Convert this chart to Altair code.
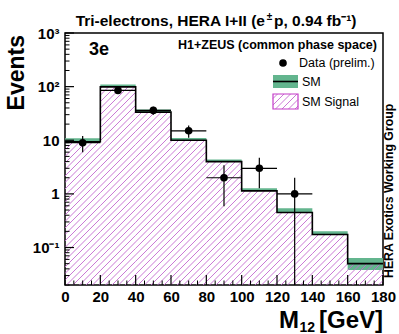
import math
import altair as alt
import pandas as pd

# ---- histogram content: tri-electron events vs. M12 ----
bin_lo = [0, 20, 40, 60, 80, 100, 120, 140, 160]
bin_hi = [20, 40, 60, 80, 100, 120, 140, 160, 180]
sm_total = [9.4, 99.0, 33.5, 10.0, 4.0, 1.14, 0.45, 0.175, 0.050]
sm_band_lo = [9.4, 99.0, 33.5, 10.0, 4.0, 1.14, 0.45, 0.172, 0.038]
sm_band_hi = [10.9, 110.0, 37.6, 11.0, 4.4, 1.28, 0.54, 0.20, 0.064]
sm_signal = [9.4, 99.0, 33.5, 10.0, 4.0, 1.14, 0.45, 0.175, 0.050]

data_x = [10, 30, 50, 70, 90, 110, 130]
data_n = [9, 85, 36, 15, 2, 3, 1]

x_major = [0, 20, 40, 60, 80, 100, 120, 140, 160, 180]
x_minor = [v for v in range(5, 180, 5) if v % 20 != 0]
y_major = [0.1, 1, 10, 100, 1000]
y_minor = [m * 10 ** e for e in range(-2, 3) for m in range(2, 10)]

# ---- geometry ----
W, H = 318, 252
XMIN, XMAX = 0, 180
YMIN, YMAX = 0.02, 1000
FONT = "Liberation Sans"
GREEN = "#63b58e"
HATCH_COL = "#c46ad0"
MAGENTA = "#c43bc8"

xs = alt.Scale(domain=[XMIN, XMAX], nice=False, zero=False)
ys = alt.Scale(type="log", domain=[YMIN, YMAX], nice=False)

x_axis = alt.Axis(values=x_major, title=None, ticks=False, domain=False, grid=False,
                  labelFont=FONT, labelFontSize=15, labelFontWeight="bold",
                  labelColor="black", labelPadding=4, labelFlush=False)
y_axis = alt.Axis(values=y_major, title=None, ticks=False, domain=False, grid=False,
                  labelFont=FONT, labelFontSize=15, labelFontWeight="bold",
                  labelColor="black", labelPadding=6,
                  labelExpr="datum.value >= 999 ? '10³' : datum.value >= 99 ? '10²' : "
                            "datum.value >= 9 ? '10' : datum.value >= 0.9 ? '1' : '10⁻¹'")


def X(field):
    return alt.X(field, type="quantitative", scale=xs, axis=x_axis)


def Y(field):
    return alt.Y(field, type="quantitative", scale=ys, axis=y_axis)


# ---- tables ----
bins = pd.DataFrame({"lo": bin_lo, "hi": bin_hi, "sm": sm_total,
                     "blo": sm_band_lo, "bhi": sm_band_hi, "sig": sm_signal})
sm_step = pd.DataFrame({"x": bin_lo + [bin_hi[-1]], "y": sm_total + [sm_total[-1]]})
pts = pd.DataFrame({"x": data_x, "n": data_n})
pts["lo"] = [max(n - math.sqrt(n), YMIN) for n in data_n]
pts["hi"] = [n + math.sqrt(n) for n in data_n]
pts["xl"] = [x - 10 for x in data_x]
pts["xh"] = [x + 10 for x in data_x]


# hatch lines ("/" at 45 degrees on screen) filling the signal histogram
def to_u(x):
    return (x - XMIN) / (XMAX - XMIN) * W


def from_u(u):
    return XMIN + u / W * (XMAX - XMIN)


LY0, LY1 = math.log10(YMIN), math.log10(YMAX)


def to_v(y):
    return (math.log10(y) - LY0) / (LY1 - LY0) * H


def from_v(v):
    return 10 ** (LY0 + v / H * (LY1 - LY0))


SPACING = 6.5
hatch = []
c = -H
while c < W:
    for lo, hi, s in zip(bin_lo, bin_hi, sm_signal):
        u0, u1, top = to_u(lo), to_u(hi), to_v(s)
        ua, ub = max(u0, c), min(u1, top + c)
        if ub - ua > 0.05:
            hatch.append({"x": from_u(ua), "y": from_v(ua - c),
                          "x2": from_u(ub), "y2": from_v(ub - c)})
    c += SPACING
hatch = pd.DataFrame(hatch)

# hatch inside the legend box (pixel coordinates)
BX0, BX1, BY0, BY1 = 208, 233, 61, 76
leg_hatch = []
c = BX0 + BY0 - (BY1 - BY0)
while c < BX1 + BY1:
    # line: px + py = c   ("/" direction on screen)
    xa = max(BX0, c - BY1)
    xb = min(BX1, c - BY0)
    if xb - xa > 0.3:
        leg_hatch.append({"px": xa, "py": c - xa, "px2": xb, "py2": c - xb})
    c += SPACING
leg_hatch = pd.DataFrame(leg_hatch)

# ---- layers ----
band = alt.Chart(bins).mark_rect(color=GREEN, clip=True).encode(
    x=X("lo"), x2="hi", y=Y("blo"), y2="bhi")

hatch_layer = alt.Chart(hatch).mark_rule(color=HATCH_COL, strokeWidth=0.9, clip=True).encode(
    x=X("x"), y=Y("y"), x2="x2", y2="y2")

sm_line = alt.Chart(sm_step).mark_line(interpolate="step-after", color="black",
                                       strokeWidth=1.6, clip=True).encode(
    x=X("x"), y=Y("y"))

err_v = alt.Chart(pts).mark_rule(color="black", strokeWidth=1.2, clip=True).encode(
    x=X("x"), y=Y("lo"), y2="hi")
err_h = alt.Chart(pts).mark_rule(color="black", strokeWidth=1.2, clip=True).encode(
    x=X("xl"), x2="xh", y=Y("n"))
dots = alt.Chart(pts).mark_circle(color="black", opacity=1, size=58).encode(
    x=X("x"), y=Y("n"))

# inward ticks
ytm = alt.Chart(pd.DataFrame({"v": y_major})).mark_rule(color="black", strokeWidth=1.2).encode(
    y=Y("v"), x=alt.value(0), x2=alt.value(9))
ytn = alt.Chart(pd.DataFrame({"v": y_minor})).mark_rule(color="black", strokeWidth=1).encode(
    y=Y("v"), x=alt.value(0), x2=alt.value(4.5))
xtm = alt.Chart(pd.DataFrame({"v": x_major})).mark_rule(color="black", strokeWidth=1.2).encode(
    x=X("v"), y=alt.value(H), y2=alt.value(H - 10))
xtn = alt.Chart(pd.DataFrame({"v": x_minor})).mark_rule(color="black", strokeWidth=1).encode(
    x=X("v"), y=alt.value(H), y2=alt.value(H - 4.5))


def label(text, x, y, size, weight="bold", align="left", baseline="middle", angle=0):
    return alt.Chart(pd.DataFrame({"t": [text]})).mark_text(
        font=FONT, fontSize=size, fontWeight=weight, align=align, baseline=baseline,
        angle=angle, color="black").encode(x=alt.value(x), y=alt.value(y), text="t:N")


one = pd.DataFrame({"k": [0]})

legend = [
    label("H1+ZEUS (common phase space)", 312, 12, 12.5, align="right"),
    label("3e", 24, 17, 18),
    alt.Chart(one).mark_circle(color="black", opacity=1, size=58).encode(
        x=alt.value(218), y=alt.value(30)),
    label("Data (prelim.)", 234, 30, 12.5, weight="normal"),
    alt.Chart(one).mark_rect(color=GREEN).encode(
        x=alt.value(208), x2=alt.value(233), y=alt.value(42), y2=alt.value(55)),
    alt.Chart(one).mark_rule(color="black", strokeWidth=1.6).encode(
        x=alt.value(208), x2=alt.value(233), y=alt.value(48.5)),
    label("SM", 237, 49, 12.5, weight="normal"),
    alt.Chart(leg_hatch).mark_rule(color=HATCH_COL, strokeWidth=0.9).encode(
        x=alt.X("px:Q", scale=None), y=alt.Y("py:Q", scale=None),
        x2="px2:Q", y2="py2:Q"),
    alt.Chart(one).mark_rect(fill=None, fillOpacity=0, stroke=MAGENTA, strokeWidth=1.2).encode(
        x=alt.value(BX0), x2=alt.value(BX1), y=alt.value(BY0), y2=alt.value(BY1)),
    label("SM Signal", 237, 69, 12.5, weight="normal"),
]

titles = [
    # title with superscripts
    label("Tri-electrons, HERA I+II (e", 200, -7, 15.5, align="right", baseline="alphabetic"),
    label("±", 204.5, -13, 10, align="center", baseline="alphabetic"),
    label("p, 0.94 fb⁻¹)", 209, -7, 15.5, baseline="alphabetic"),
    # axis titles
    label("Events", -48, 2, 23, align="right", angle=270),
    label("[GeV]", 318, 295, 24, align="right", baseline="alphabetic"),
    label("12", 250, 299, 14, align="right", baseline="alphabetic"),
    label("M", 234, 295, 24, align="right", baseline="alphabetic"),
    # side note
    label("HERA Exotics Working Group", 324, 245, 12.3, align="left", angle=270),
]

chart = alt.layer(
    band, hatch_layer, sm_line, err_v, err_h, dots, ytm, ytn, xtm, xtn, *legend, *titles
).properties(
    width=W, height=H,
    padding={"left": 65, "top": 33, "right": 16, "bottom": 49},
    autosize=alt.AutoSizeParams(type="none"),
    background="white",
).configure_view(stroke="black", strokeWidth=1.5)

chart.save("out.html", embed_options={"renderer": "svg", "actions": False})
